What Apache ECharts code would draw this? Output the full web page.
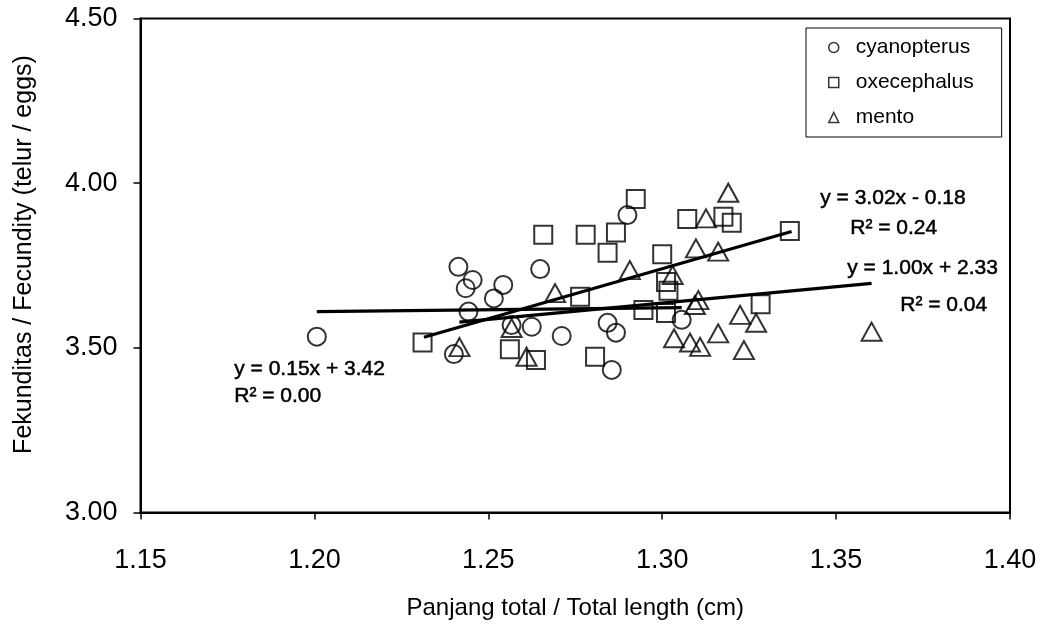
<!DOCTYPE html>
<html lang="en">
<head>
    <meta charset="UTF-8">
    <title>Fekunditas</title>
    <script src="https://cdn.jsdelivr.net/npm/echarts@6/dist/echarts.min.js"></script>
</head>
<style>
    body { margin: 0; background: #fff; }
    #chart { width: 1044px; height: 630px; }
</style>
<body>
<div id="chart"></div>

<script>
    // [panjang total, fekunditas]
    let cyanopterus = [
        [1.2007, 3.534], [1.2414, 3.746], [1.2455, 3.706], [1.2435, 3.681], [1.2543, 3.691],
        [1.2516, 3.650], [1.2649, 3.739], [1.2443, 3.610], [1.2567, 3.569], [1.2625, 3.564],
        [1.2401, 3.481], [1.2900, 3.903], [1.2843, 3.576], [1.2867, 3.546], [1.2711, 3.536],
        [1.2855, 3.433], [1.3056, 3.585]
    ]
    let oxecephalus = [
        [1.2311, 3.516], [1.2562, 3.496], [1.2637, 3.463], [1.2924, 3.952], [1.2658, 3.843],
        [1.2780, 3.843], [1.2867, 3.850], [1.2843, 3.789], [1.3072, 3.891], [1.3176, 3.898],
        [1.3200, 3.880], [1.3367, 3.855], [1.3000, 3.784], [1.3011, 3.700], [1.3018, 3.673],
        [1.3011, 3.606], [1.2946, 3.615], [1.2764, 3.655], [1.3283, 3.632], [1.2807, 3.473]
    ]
    let mento = [
        [1.2417, 3.502], [1.2567, 3.560], [1.2610, 3.473], [1.3190, 3.971], [1.3126, 3.893],
        [1.3097, 3.802], [1.3161, 3.792], [1.2907, 3.736], [1.3030, 3.721], [1.2692, 3.666],
        [1.3104, 3.645], [1.3094, 3.630], [1.3224, 3.600], [1.3270, 3.576], [1.3034, 3.529],
        [1.3080, 3.516], [1.3109, 3.503], [1.3161, 3.544], [1.3235, 3.493], [1.3602, 3.549]
    ]
    // trendline ends as drawn
    let trendCyan = [[1.2007, 3.610], [1.3056, 3.622]]
    let trendOxe = [[1.2315, 3.532], [1.3372, 3.853]]
    let trendMento = [[1.2417, 3.578], [1.3602, 3.696]]

    let xTicks = {min: 1.15, max: 1.40, interval: 0.05}
    let yTicks = {min: 3.0, max: 4.5, interval: 0.5}

    let equations = [
        {text: 'y = 0.15x + 3.42', x: 234, y: 369},
        {text: 'R\u00b2 = 0.00', x: 234, y: 396},
        {text: 'y = 3.02x - 0.18', x: 820, y: 198},
        {text: 'R\u00b2 = 0.24', x: 850, y: 228},
        {text: 'y = 1.00x + 2.33', x: 847, y: 268},
        {text: 'R\u00b2 = 0.04', x: 900, y: 305}
    ]

    let font = 'Liberation Sans, Arial, sans-serif'
    let hollow = {color: 'rgba(0,0,0,0)', borderColor: '#000', borderWidth: 2}

    function trend(data) {
        return {
            type: 'line', data: data, showSymbol: false, silent: true,
            lineStyle: {color: '#000', width: 3.2}, z: 3
        }
    }

    let option = {
        backgroundColor: '#fff',
        animation: false,
        grid: {
            left: 140.5, right: 34, top: 18.5, bottom: 117.5,
            show: true, borderColor: '#000', borderWidth: 2
        },
        legend: {
            left: 806, top: 28,
            orient: 'vertical',
            data: ['cyanopterus', 'oxecephalus', 'mento'],
            itemWidth: 10, itemHeight: 10, itemGap: 14,
            padding: [9, 28, 9, 22],
            borderColor: '#000', borderWidth: 1,
            itemStyle: {color: '#fff', borderColor: '#000', borderWidth: 1.5},
            textStyle: {fontFamily: font, fontSize: 21, color: '#000', padding: [0, 0, 0, 12]}
        },
        xAxis: {
            type: 'value',
            min: xTicks.min, max: xTicks.max, interval: xTicks.interval,
            name: 'Panjang total / Total length (cm)',
            nameLocation: 'middle', nameGap: 84,
            nameTextStyle: {fontFamily: font, fontSize: 24, color: '#000'},
            axisLine: {lineStyle: {color: '#000', width: 2}},
            axisTick: {length: 7, lineStyle: {color: '#000', width: 1.5}},
            axisLabel: {
                fontFamily: font, fontSize: 27, color: '#000', margin: 35,
                formatter: v => v.toFixed(2)
            },
            splitLine: {show: false}
        },
        yAxis: {
            type: 'value',
            min: yTicks.min, max: yTicks.max, interval: yTicks.interval,
            name: 'Fekunditas / Fecundity (telur / eggs)',
            nameLocation: 'middle', nameGap: 104,
            nameTextStyle: {fontFamily: font, fontSize: 25, color: '#000', padding: [0, 0, 0, 22]},
            axisLine: {lineStyle: {color: '#000', width: 2}},
            axisTick: {length: 7, lineStyle: {color: '#000', width: 1.5}},
            axisLabel: {
                fontFamily: font, fontSize: 27, color: '#000', margin: 23,
                padding: [8, 0, 0, 0],
                formatter: v => v.toFixed(2)
            },
            splitLine: {show: false}
        },
        graphic: equations.map(e => ({
            type: 'text', left: e.x, top: e.y - 11,
            style: {
                text: e.text, fontFamily: font, fontSize: 21, fill: '#000',
                stroke: '#000', lineWidth: 0.5
            }
        })),
        series: [
            {name: 'cyanopterus', type: 'scatter', symbol: 'circle', symbolSize: 18, data: cyanopterus, itemStyle: hollow},
            {name: 'oxecephalus', type: 'scatter', symbol: 'rect', symbolSize: 18, data: oxecephalus, itemStyle: hollow},
            {name: 'mento', type: 'scatter', symbol: 'triangle', symbolSize: [20, 18], data: mento, itemStyle: hollow},
            trend(trendCyan),
            trend(trendOxe),
            trend(trendMento)
        ]
    }

    let chart = echarts.init(document.getElementById('chart'))
    chart.setOption(option)
</script>
</body>
</html>
